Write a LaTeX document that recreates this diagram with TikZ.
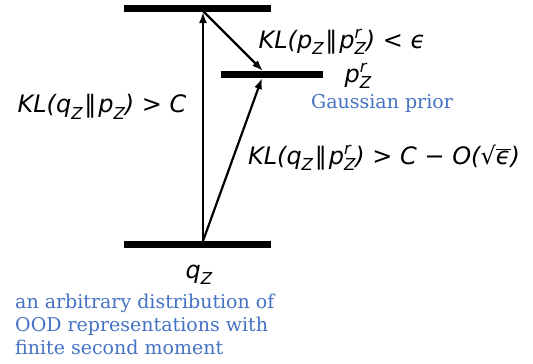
\documentclass[tikz,border=0pt]{standalone}
\usepackage{fontspec}
\setmainfont{DejaVu Serif}
\newfontfamily\msans{DejaVu Sans}
\usetikzlibrary{arrows.meta}
\definecolor{gblue}{HTML}{4472C4}
\newcommand{\sr}[2]{\makebox[0pt][l]{\raisebox{0.4em}{\fontsize{16.5}{16.5}\selectfont #1}}\raisebox{-0.27em}{\fontsize{16.5}{16.5}\selectfont #2}}
\newcommand{\sbz}[1]{\raisebox{-0.27em}{\fontsize{16.5}{16.5}\selectfont #1}}
\newcommand{\dbar}{{\upshape\kern0.08em‖\kern0.08em}}
\begin{document}
\begin{tikzpicture}[x=1pt,y=-1pt,
  bar/.style={fill=black,inner sep=0pt,minimum height=7pt},
  arr/.style={line width=2.2pt,-{Latex[length=11pt,width=8pt]}},
  mlabel/.style={font=\msans\itshape\fontsize{24}{27}\selectfont,inner sep=0pt},
  blabel/.style={font=\fontsize{19}{23}\selectfont,text=gblue,inner sep=0pt}]
\useasboundingbox (0,0) rectangle (533,364);
\node[bar,minimum width=147pt] (top) at (197.5,8.5) {};
\node[bar,minimum width=102pt] (mid) at (272,74.5) {};
\node[bar,minimum width=147pt] (bot) at (197.5,244.5) {};
\coordinate (b0) at (203,241);
\coordinate (t0) at (203,12);
\coordinate (t1) at (203,11);
\coordinate (m0) at (263,71);
\coordinate (m1) at (262,78);
\draw[arr] (b0) -- (t0);
\draw[arr] (t1) -- (m0);
\draw[arr] (b0) -- (m1);
\node[mlabel] (l1) at (342,42) {KL(p\sbz{Z}\dbar p\sr{r}{Z}) {\upshape<} ϵ};
\node[mlabel] (pr) at (358,76) {p\sr{r}{Z}};
\node[blabel] (gp) at (382,103) {Gaussian prior};
\node[mlabel] (l2) at (102,107) {KL(q\sbz{Z}\dbar p\sbz{Z}) {\upshape>} C};
\node[mlabel] (l3) at (384,158) {KL(q\sbz{Z}\dbar p\sr{r}{Z}) {\upshape>} C {\upshape−} O({\upshape√}$\overline{\mbox{ϵ}}$)};
\node[mlabel] (qz) at (199,275) {q\sbz{Z}};
\node[blabel,anchor=north west,align=left] (desc) at (15,294) {an arbitrary distribution of\\OOD representations with\\finite second moment};
\end{tikzpicture}
\end{document}
